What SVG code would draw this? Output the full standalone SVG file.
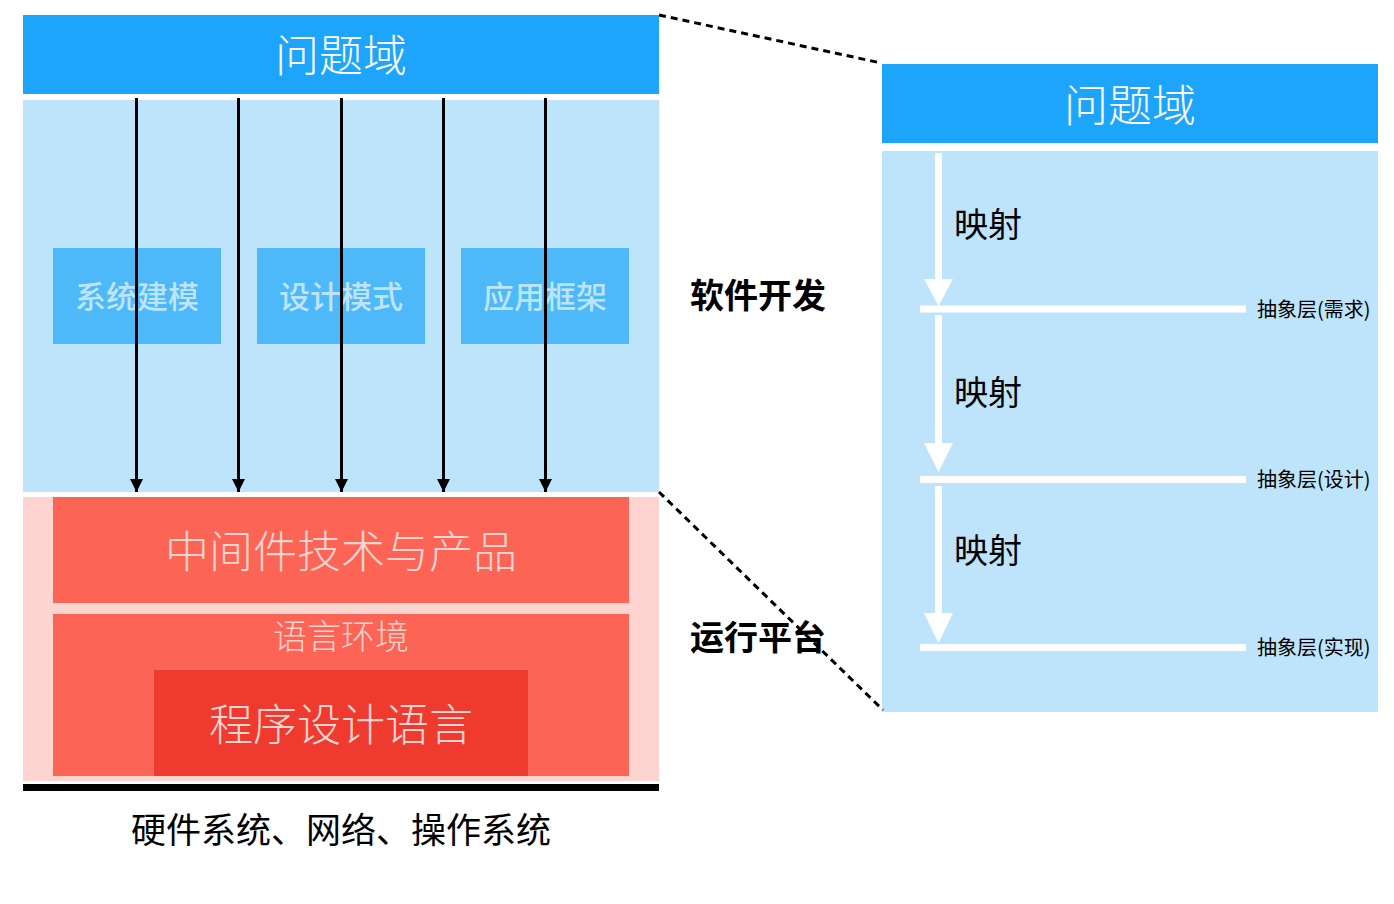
<svg xmlns="http://www.w3.org/2000/svg" width="1394" height="904" viewBox="0 0 1394 904">
<defs>
<style>
.t{font-family:"Noto Sans CJK SC","Noto Sans",sans-serif;text-anchor:middle;dominant-baseline:central}
.tl{font-family:"Noto Sans CJK SC","Noto Sans",sans-serif;text-anchor:start;dominant-baseline:central}
.bar{fill:#1DA5FC}
.lb{fill:#BEE4FC}
.bx{fill:#4DB9F9}
.pink{fill:#FDD4CF}
.red{fill:#FC6555}
.dred{fill:#EF3A30}
.arr{stroke:#000;stroke-width:3;fill:none}
.dash{stroke:#000;stroke-width:3;stroke-dasharray:7 5;fill:none}
.wl{stroke:#fff;stroke-width:7;fill:none}
</style>
<marker id="ah" viewBox="0 0 13 13" refX="13" refY="6.5" markerWidth="13" markerHeight="13" markerUnits="userSpaceOnUse" orient="auto">
<path d="M0,0 L13,6.5 L0,13 z" fill="#000"/>
</marker>
</defs>
<rect width="1394" height="904" fill="#fff"/>

<g id="left-problem">
<rect class="bar" x="23" y="15" width="636" height="79"/>
<text class="t" x="341" y="53" font-size="44" font-weight="300" fill="#fff">问题域</text>
</g>
<g id="left-dev-panel">
<rect class="lb" x="23" y="100" width="636" height="392"/>
</g>
<g id="box-sysmodel">
<rect class="bx" x="53" y="248" width="168" height="96"/>
<text class="t" x="137" y="294" font-size="31" font-weight="500" fill="#BEE4FC">系统建模</text>
</g>
<g id="box-pattern">
<rect class="bx" x="257" y="248" width="168" height="96"/>
<text class="t" x="341" y="294" font-size="31" font-weight="500" fill="#BEE4FC">设计模式</text>
</g>
<g id="box-framework">
<rect class="bx" x="461" y="248" width="168" height="96"/>
<text class="t" x="545" y="294" font-size="31" font-weight="500" fill="#BEE4FC">应用框架</text>
</g>
<g id="left-runtime-panel">
<rect class="pink" x="23" y="497" width="636" height="284"/>
</g>
<g id="box-middleware">
<rect class="red" x="53" y="497" width="576" height="106"/>
<text class="t" x="341" y="549" font-size="44" font-weight="300" fill="#FDD4CF">中间件技术与产品</text>
</g>
<g id="box-langenv">
<rect class="red" x="53" y="614" width="576" height="162"/>
<text class="t" x="341" y="634" font-size="34" font-weight="300" fill="#FDD4CF">语言环境</text>
</g>
<g id="box-proglang">
<rect class="dred" x="154" y="670" width="374" height="106"/>
<text class="t" x="341" y="722" font-size="44" font-weight="300" fill="#FDD4CF">程序设计语言</text>
</g>
<g id="hardware">
<rect x="23" y="784" width="636" height="7" fill="#000"/>
<text class="t" x="341" y="827" font-size="35" fill="#000">硬件系统、网络、操作系统</text>
</g>
<g id="label-dev">
<text class="tl" x="690" y="293" font-size="34" font-weight="bold" fill="#000">软件开发</text>
</g>
<g id="label-runtime">
<text class="tl" x="690" y="635" font-size="34" font-weight="bold" fill="#000">运行平台</text>
</g>

<g id="right-problem">
<rect class="bar" x="882" y="64" width="496" height="79"/>
<text class="t" x="1130" y="103" font-size="44" font-weight="300" fill="#fff">问题域</text>
</g>
<g id="right-panel">
<rect class="lb" x="882" y="151" width="496" height="561"/>
<text class="tl" x="954" y="222" font-size="34" fill="#000">映射</text>
<text class="tl" x="954" y="390" font-size="34" fill="#000">映射</text>
<text class="tl" x="954" y="548" font-size="34" fill="#000">映射</text>
</g>
<g id="layer-req">
<line class="wl" x1="920" y1="309" x2="1246" y2="309"/>
<text class="tl" x="1257" y="308" font-size="20" fill="#000">抽象层(需求)</text>
</g>
<g id="layer-design">
<line class="wl" x1="920" y1="479.5" x2="1246" y2="479.5"/>
<text class="tl" x="1257" y="478" font-size="20" fill="#000">抽象层(设计)</text>
</g>
<g id="layer-impl">
<line class="wl" x1="920" y1="647.5" x2="1246" y2="647.5"/>
<text class="tl" x="1257" y="646" font-size="20" fill="#000">抽象层(实现)</text>
</g>

<g id="connectors">
<line class="arr" x1="136.5" y1="98" x2="136.5" y2="492" marker-end="url(#ah)"/>
<line class="arr" x1="238.5" y1="98" x2="238.5" y2="492" marker-end="url(#ah)"/>
<line class="arr" x1="341.5" y1="98" x2="341.5" y2="492" marker-end="url(#ah)"/>
<line class="arr" x1="443.5" y1="98" x2="443.5" y2="492" marker-end="url(#ah)"/>
<line class="arr" x1="545.5" y1="98" x2="545.5" y2="492" marker-end="url(#ah)"/>
<line class="dash" x1="659" y1="15" x2="881" y2="63"/>
<line class="dash" x1="659" y1="492" x2="883" y2="710"/>
<line class="wl" x1="938.5" y1="153" x2="938.5" y2="282"/>
<path d="M924,279 L953,279 L938.5,306 z" fill="#fff"/>
<line class="wl" x1="938.5" y1="315" x2="938.5" y2="446"/>
<path d="M924,443 L953,443 L938.5,472 z" fill="#fff"/>
<line class="wl" x1="938.5" y1="486" x2="938.5" y2="616"/>
<path d="M924,613 L953,613 L938.5,643 z" fill="#fff"/>
</g>
</svg>
